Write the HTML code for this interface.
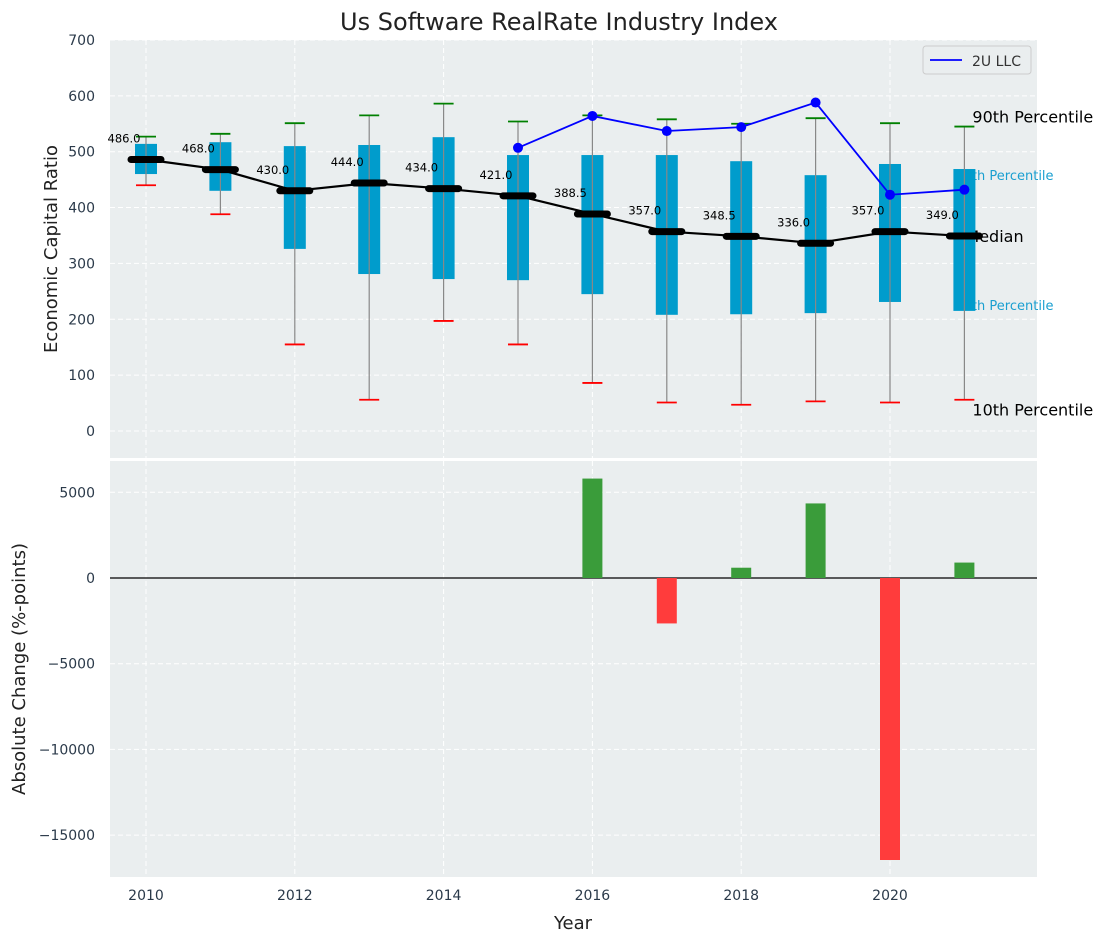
<!DOCTYPE html>
<html><head><meta charset="utf-8"><style>
body{margin:0;background:#fff;}
svg{display:block;font-family:"DejaVu Sans","Liberation Sans",sans-serif;}
</style></head><body>
<svg id="c" width="1107" height="942"></svg>
<script>
const years=[2010,2011,2012,2013,2014,2015,2016,2017,2018,2019,2020,2021];
const p10=[440,388,155,56,197,155,86,51,47,53,51,56];
const p25=[460,430,326,281,272,270,245,208,209,211,231,215];
const medians=[486,468,430,444,434,421,388.5,357,348.5,336,357,349];
const p75=[514,517,510,512,526,494,494,494,483,458,478,469];
const p90=[527,532,551,565,586,554,565,558,550,560,551,545];
const coYears=[2015,2016,2017,2018,2019,2020,2021];
const coValues=[507,564,537,544,588,423,432];
const chgYears=[2016,2017,2018,2019,2020,2021];
const chgValues=[5800,-2650,600,4350,-16450,900];
const topTicks=[0,100,200,300,400,500,600,700];
const botTicks=[5000,0,-5000,-10000,-15000];
const xTicks=[2010,2012,2014,2016,2018,2020];

const svg=document.getElementById('c');
const NS='http://www.w3.org/2000/svg';
function add(tag,attrs,parent,text){const e=document.createElementNS(NS,tag);for(const k in attrs)e.setAttribute(k,attrs[k]);if(text!==undefined)e.textContent=text;(parent||svg).appendChild(e);return e;}
const X=y=>146+(y-2010)*74.4;
const Y=v=>431-v*0.5586;
const Y2=v=>578-v*0.017143;
const L=110,R=1037;
const fmt=v=>String(v).replace('-','\u2212');

let g=add('g',{});
add('rect',{x:L,y:40,width:R-L,height:418,fill:'#eaeeef'},g);
let g2=add('g',{});
add('rect',{x:L,y:461,width:R-L,height:416,fill:'#eaeeef'},g2);
topTicks.forEach(t=>{add('line',{x1:L,x2:R,y1:Y(t),y2:Y(t),stroke:'#fff','stroke-dasharray':'5,3','stroke-width':1},g);
 const tx=add('text',{x:95,y:Y(t)+5,'text-anchor':'end','font-size':14,fill:'#2b3a4a'},g,fmt(t));});
botTicks.forEach(t=>{add('line',{x1:L,x2:R,y1:Y2(t),y2:Y2(t),stroke:'#fff','stroke-dasharray':'5,3','stroke-width':1},g2);
 const tx=add('text',{x:95,y:Y2(t)+5,'text-anchor':'end','font-size':14,fill:'#2b3a4a'},g2,fmt(t));});
xTicks.forEach(t=>{add('line',{x1:X(t),x2:X(t),y1:40,y2:458,stroke:'#fff','stroke-dasharray':'5,3'},g);
 add('line',{x1:X(t),x2:X(t),y1:461,y2:877,stroke:'#fff','stroke-dasharray':'5,3'},g2);
 const tx=add('text',{x:X(t),y:900,'text-anchor':'middle','font-size':14,fill:'#2b3a4a'},svg,t);});
const last=years.length-1,lx=X(years[last]);
[['90th Percentile',lx+8,Y(p90[last])-4,16,'#000'],['75th Percentile',lx-9,Y(p75[last])+11,13,'#1a9fd0'],['Median',lx+1,Y(medians[last])+6,16,'#000'],['25th Percentile',lx-9,Y(p25[last])-1,13,'#1a9fd0'],['10th Percentile',lx+8,Y(p10[last])+16,16,'#000']].forEach(a=>{
 const t=add('text',{x:a[1],y:a[2],'font-size':a[3],fill:a[4]},g,a[0]);});
years.forEach((yr,i)=>{const x=X(yr);
 const b=add('rect',{x:x-11,y:Y(p75[i]),width:22,height:Y(p25[i])-Y(p75[i]),fill:'#009ccc'},g);
 add('line',{x1:x,x2:x,y1:Y(p90[i]),y2:Y(p10[i]),stroke:'#888','stroke-width':1.2},g);
 add('line',{x1:x-10,x2:x+10,y1:Y(p90[i]),y2:Y(p90[i]),stroke:'green','stroke-width':1.8},g);
 add('line',{x1:x-10,x2:x+10,y1:Y(p10[i]),y2:Y(p10[i]),stroke:'red','stroke-width':1.8},g);
});
add('polyline',{points:years.map((y,i)=>X(y)+','+Y(medians[i])).join(' '),fill:'none',stroke:'#000','stroke-width':2.2},g);
years.forEach((yr,i)=>{const x=X(yr);
 const m=add('line',{x1:x-15,x2:x+15,y1:Y(medians[i]),y2:Y(medians[i]),stroke:'#000','stroke-width':7,'stroke-linecap':'round'},g);
 const t=add('text',{x:x-22,y:Y(medians[i])-17,'text-anchor':'middle','font-size':11.5,fill:'#000'},g,medians[i].toFixed(1));
});
const ln=add('polyline',{points:coYears.map((y,i)=>X(y)+','+Y(coValues[i])).join(' '),fill:'none',stroke:'blue','stroke-width':1.8},g);
coYears.forEach((y,i)=>{const c=add('circle',{cx:X(y),cy:Y(coValues[i]),r:5,fill:'blue'},g);});
const lg=add('g',{});
add('rect',{x:923,y:46,width:108,height:28,rx:3,fill:'#eaeeef',stroke:'#ccc'},lg);
add('line',{x1:930,x2:962,y1:60,y2:60,stroke:'blue','stroke-width':1.8},lg);
add('text',{x:972,y:66,'font-size':14,fill:'#333'},lg,'2U LLC');
add('line',{x1:L,x2:R,y1:Y2(0),y2:Y2(0),stroke:'#000','stroke-width':1.2},g2);
chgYears.forEach((y,i)=>{const v=chgValues[i];const b=add('rect',{x:X(y)-10,y:Math.min(Y2(v),Y2(0)),width:20,height:Math.abs(Y2(v)-Y2(0)),fill:v>=0?'#3a9c3a':'#ff3c3c'},g2);});
let t=add('text',{x:559,y:30,'text-anchor':'middle','font-size':24,fill:'#222'},svg,'Us Software RealRate Industry Index');
t=add('text',{x:573,y:929,'text-anchor':'middle','font-size':18,fill:'#222'},svg,'Year');
t=add('text',{x:0,y:0,'text-anchor':'middle','font-size':18,fill:'#222',transform:'translate(57,249) rotate(-90)'},svg,'Economic Capital Ratio');
t=add('text',{x:0,y:0,'text-anchor':'middle','font-size':18,fill:'#222',transform:'translate(25,669) rotate(-90)'},svg,'Absolute Change (%-points)');
</script>
</body></html>
